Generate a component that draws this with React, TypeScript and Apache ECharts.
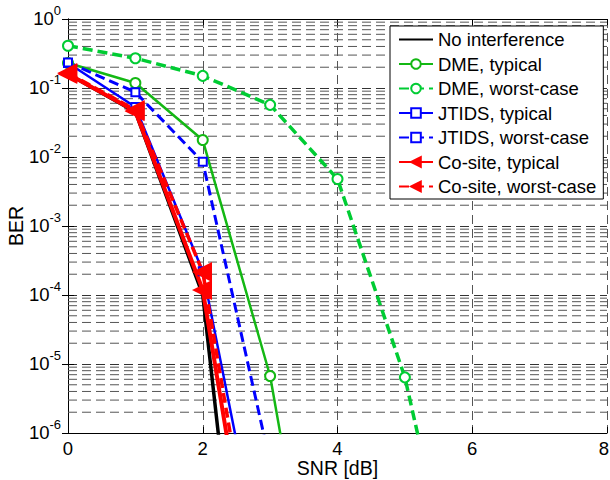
import React, { useEffect, useRef } from "react";
import * as echarts from "echarts";

const snr = [0, 1, 2, 3, 4, 5, 6];
const noInterference = [0.16, 0.045, 1.0e-4, 2e-13];
const dmeTypical = [0.23, 0.118, 0.0176, 6.7e-6, 2e-11];
const dmeWorst = [0.41, 0.27, 0.15, 0.057, 4.8e-3, 6.4e-6, 3e-10];
const jtidsTypical = [0.23, 0.053, 2.2e-4, 2.7e-9];
const jtidsWorst = [0.235, 0.087, 8.5e-3, 3.7e-7];
const cositeTypical = [0.16, 0.046, 1.18e-4, 1.4e-10];
const cositeWorst = [0.165, 0.048, 2.15e-4, 4e-10];

const xTicks = [0, 2, 4, 6, 8];
const decades = [-6, -5, -4, -3, -2, -1, 0];
const minorMultipliers = [2, 3, 4, 5, 6, 7, 8, 9];

const names = [
  "No interference",
  "DME, typical",
  "DME, worst-case",
  "JTIDS, typical",
  "JTIDS, worst-case",
  "Co-site, typical",
  "Co-site, worst-case",
];

const FONT = "Liberation Sans";

function pairs(vals: number[]) {
  return vals.map((v, i) => [snr[i], v]);
}

export default function App() {
  const ref = useRef<HTMLDivElement>(null);
  useEffect(() => {
    if (!ref.current) return;
    const chart = echarts.init(ref.current, null, { renderer: "svg" });

    const minorValues: number[] = [];
    decades.slice(0, -1).forEach((d) => {
      minorMultipliers.forEach((m) => minorValues.push(m * Math.pow(10, d)));
    });

    const green1 = "#14b814";
    const green2 = "#00cc33";
    const blue = "#0000ff";
    const red = "#ff0000";

    const mk = (
      name: string,
      vals: number[],
      color: string,
      width: number,
      dashed: boolean,
      symbol: string,
      symbolSize: number,
      extra: any = {}
    ) => ({
      name,
      type: "line",
      data: pairs(vals),
      clip: true,
      z: 3,
      symbol,
      symbolSize,
      showSymbol: symbol !== "none",
      lineStyle: { color, width, type: dashed ? [10, 5] : "solid" },
      itemStyle: { color, borderColor: color, borderWidth: 2.5 },
      emphasis: { disabled: true },
      ...extra,
    });

    const supLabel = (v: number) => {
      const e = Math.round(Math.log10(v));
      return `{b|10}{s|${e}}`;
    };

    const minorSeries = minorValues.map((v) => ({
      name: "minor-grid",
      type: "line",
      data: [
        [xTicks[0], v],
        [xTicks[xTicks.length - 1], v],
      ],
      z: 1,
      silent: true,
      symbol: "none",
      clip: true,
      lineStyle: { color: "#555", width: 1, type: [9, 5] },
      emphasis: { disabled: true },
    }));

    const lastX = xTicks[xTicks.length - 1];

    chart.setOption({
      animation: false,
      textStyle: { fontFamily: FONT },
      grid: { left: 68, right: 3, top: 19, bottom: 47, containLabel: false, outerBoundsMode: "none" },
      legend: {
        orient: "vertical",
        left: 390,
        top: 26,
        padding: [4, 7, 3, 8],
        itemWidth: 34,
        itemHeight: 12,
        itemGap: 5.5,
        borderColor: "#000",
        borderWidth: 1,
        borderRadius: 0,
        backgroundColor: "#fff",
        z: 10,
        textStyle: { fontFamily: FONT, fontSize: 18.5, color: "#000" },
        data: names.map((n, i) =>
          i === 0 ? { name: n, itemStyle: { opacity: 0 } } : { name: n }
        ),
      },
      xAxis: [
        {
          type: "value",
          min: 0,
          max: 8,
          interval: 2,
          name: "SNR [dB]",
          nameLocation: "middle",
          nameGap: 25,
          nameMoveOverlap: false,
          nameTextStyle: { fontFamily: FONT, fontSize: 19.5, color: "#000", verticalAlign: "top" },
          axisLine: { lineStyle: { color: "#000", width: 1 } },
          axisTick: { inside: true, length: 6, lineStyle: { color: "#000" } },
          axisLabel: {
            fontFamily: FONT,
            fontSize: 18.5,
            color: "#000",
            margin: 6,
            formatter: (v: number) =>
              v === lastX ? `{r|${v}}` : xTicks.includes(v) ? String(v) : "",
            rich: {
              r: { fontFamily: FONT, fontSize: 18.5, color: "#000", padding: [0, 6, 0, 0] },
            },
          },
          splitLine: {
            show: true,
            lineStyle: { color: "#555", width: 1, type: [9, 5] },
          },
        },
        {
          type: "value",
          position: "top",
          min: 0,
          max: 8,
          interval: 2,
          axisLine: { show: true, lineStyle: { color: "#000", width: 1 } },
          axisTick: { inside: true, length: 6, lineStyle: { color: "#000" } },
          axisLabel: { show: false },
          splitLine: { show: false },
        },
      ],
      yAxis: [
        {
          type: "log",
          logBase: 10,
          min: 1e-6,
          max: 1,
          name: "BER",
          nameLocation: "middle",
          nameGap: 42,
          nameMoveOverlap: false,
          nameTextStyle: { fontFamily: FONT, fontSize: 19.5, color: "#000" },
          axisLine: { show: true, lineStyle: { color: "#000", width: 1 } },
          axisTick: { inside: true, length: 6, lineStyle: { color: "#000" } },
          axisLabel: {
            margin: 7,
            color: "#000",
            formatter: supLabel,
            rich: {
              b: { fontFamily: FONT, fontSize: 18.5, color: "#000", verticalAlign: "bottom", lineHeight: 18 },
              s: { fontFamily: FONT, fontSize: 13, color: "#000", verticalAlign: "bottom", lineHeight: 13, padding: [0, 0, 11, 0] },
            },
          },
          splitLine: {
            show: true,
            lineStyle: { color: "#333", width: 1, type: [9, 5] },
          },
        },
        {
          type: "log",
          logBase: 10,
          min: 1e-6,
          max: 1,
          position: "right",
          axisLine: { show: true, lineStyle: { color: "#000", width: 1 } },
          axisTick: { inside: true, length: 6, lineStyle: { color: "#000" } },
          axisLabel: { show: false },
          splitLine: { show: false },
        },
      ],
      series: [
        ...minorSeries,
        mk(names[0], noInterference, "#000", 3.5, false, "none", 0),
        mk(names[1], dmeTypical, green1, 2.5, false, "emptyCircle", 10),
        mk(names[2], dmeWorst, green2, 3.5, true, "emptyCircle", 10),
        mk(names[3], jtidsTypical, blue, 2.5, false, "emptyRect", 8, {
          itemStyle: { color: blue, borderColor: blue, borderWidth: 3 },
        }),
        mk(names[4], jtidsWorst, blue, 3, true, "emptyRect", 8, {
          itemStyle: { color: blue, borderColor: blue, borderWidth: 3 },
        }),
        mk(names[5], cositeTypical, red, 4, false, "triangle", 16, { symbolRotate: 90 }),
        mk(names[6], cositeWorst, red, 3.5, true, "triangle", 16, { symbolRotate: 90 }),
      ],
    });
    return () => chart.dispose();
  }, []);
  return <div ref={ref} style={{ width: 610, height: 480, position: "absolute", left: 0, top: 0 }} />;
}
